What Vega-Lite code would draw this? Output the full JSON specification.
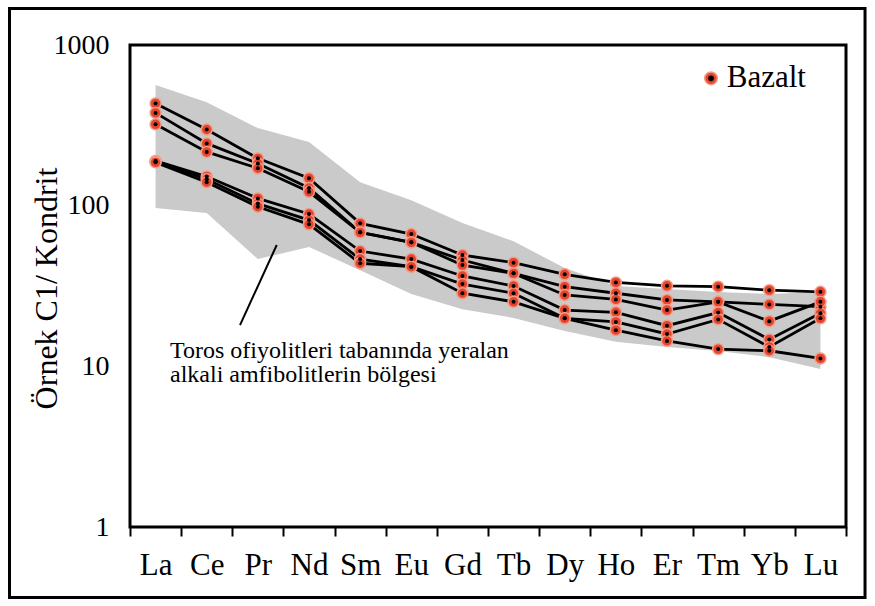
{
  "$schema": "https://vega.github.io/schema/vega-lite/v6.json",
  "width": 716,
  "height": 482,
  "autosize": {"type": "none"},
  "padding": {"left": 130, "top": 45, "right": 29, "bottom": 79},
  "background": "white",
  "config": {"view": {"stroke": "black", "strokeWidth": 3}, "font": "Liberation Serif"},
  "datasets": {
    "ree": [
      {"s":"A","el":"La","i":0,"v":433},{"s":"A","el":"Ce","i":1,"v":298},{"s":"A","el":"Pr","i":2,"v":197},{"s":"A","el":"Nd","i":3,"v":148},{"s":"A","el":"Sm","i":4,"v":77.6},{"s":"A","el":"Eu","i":5,"v":66.6},{"s":"A","el":"Gd","i":6,"v":49.3},{"s":"A","el":"Tb","i":7,"v":44.2},{"s":"A","el":"Dy","i":8,"v":37.4},{"s":"A","el":"Ho","i":9,"v":33.3},{"s":"A","el":"Er","i":10,"v":31.7},{"s":"A","el":"Tm","i":11,"v":31.3},{"s":"A","el":"Yb","i":12,"v":29.8},{"s":"A","el":"Lu","i":13,"v":29.1},
      {"s":"B","el":"La","i":0,"v":378},{"s":"B","el":"Ce","i":1,"v":244},{"s":"B","el":"Pr","i":2,"v":183},{"s":"B","el":"Nd","i":3,"v":129},{"s":"B","el":"Sm","i":4,"v":68.2},{"s":"B","el":"Eu","i":5,"v":59.1},{"s":"B","el":"Gd","i":6,"v":45.9},{"s":"B","el":"Tb","i":7,"v":37.9},{"s":"B","el":"Dy","i":8,"v":31.3},{"s":"B","el":"Ho","i":9,"v":28.5},{"s":"B","el":"Er","i":10,"v":25.9},{"s":"B","el":"Tm","i":11,"v":25.2},{"s":"B","el":"Yb","i":12,"v":24.3},{"s":"B","el":"Lu","i":13,"v":23.5},
      {"s":"C","el":"La","i":0,"v":321},{"s":"C","el":"Ce","i":1,"v":216},{"s":"C","el":"Pr","i":2,"v":171},{"s":"C","el":"Nd","i":3,"v":122},{"s":"C","el":"Sm","i":4,"v":68.2},{"s":"C","el":"Eu","i":5,"v":59.1},{"s":"C","el":"Gd","i":6,"v":42.7},{"s":"C","el":"Tb","i":7,"v":37.9},{"s":"C","el":"Dy","i":8,"v":27.8},{"s":"C","el":"Ho","i":9,"v":26.1},{"s":"C","el":"Er","i":10,"v":22.4},{"s":"C","el":"Tm","i":11,"v":25.2},{"s":"C","el":"Yb","i":12,"v":19.1},{"s":"C","el":"Lu","i":13,"v":25.2},
      {"s":"D","el":"La","i":0,"v":190},{"s":"D","el":"Ce","i":1,"v":152},{"s":"D","el":"Pr","i":2,"v":111},{"s":"D","el":"Nd","i":3,"v":88.7},{"s":"D","el":"Sm","i":4,"v":52.2},{"s":"D","el":"Eu","i":5,"v":46.5},{"s":"D","el":"Gd","i":6,"v":36.5},{"s":"D","el":"Tb","i":7,"v":31.6},{"s":"D","el":"Dy","i":8,"v":22.4},{"s":"D","el":"Ho","i":9,"v":21.7},{"s":"D","el":"Er","i":10,"v":17.9},{"s":"D","el":"Tm","i":11,"v":21.6},{"s":"D","el":"Yb","i":12,"v":14.7},{"s":"D","el":"Lu","i":13,"v":21.4},
      {"s":"E","el":"La","i":0,"v":188},{"s":"E","el":"Ce","i":1,"v":146},{"s":"E","el":"Pr","i":2,"v":103},{"s":"E","el":"Nd","i":3,"v":81.3},{"s":"E","el":"Sm","i":4,"v":46.5},{"s":"E","el":"Eu","i":5,"v":41.7},{"s":"E","el":"Gd","i":6,"v":32.5},{"s":"E","el":"Tb","i":7,"v":28.5},{"s":"E","el":"Dy","i":8,"v":19.9},{"s":"E","el":"Ho","i":9,"v":18.9},{"s":"E","el":"Er","i":10,"v":15.9},{"s":"E","el":"Tm","i":11,"v":19.6},{"s":"E","el":"Yb","i":12,"v":13.2},{"s":"E","el":"Lu","i":13,"v":19.9},
      {"s":"F","el":"La","i":0,"v":186},{"s":"F","el":"Ce","i":1,"v":140},{"s":"F","el":"Pr","i":2,"v":98.5},{"s":"F","el":"Nd","i":3,"v":76.5},{"s":"F","el":"Sm","i":4,"v":43.8},{"s":"F","el":"Eu","i":5,"v":41.7},{"s":"F","el":"Gd","i":6,"v":28.5},{"s":"F","el":"Tb","i":7,"v":25.2},{"s":"F","el":"Dy","i":8,"v":19.9},{"s":"F","el":"Ho","i":9,"v":16.8},{"s":"F","el":"Er","i":10,"v":14.4},{"s":"F","el":"Tm","i":11,"v":12.8},{"s":"F","el":"Yb","i":12,"v":12.5},{"s":"F","el":"Lu","i":13,"v":11.2}
    ],
    "band": [
      {"el":"La","i":0,"v":96.6,"v2":563},{"el":"Ce","i":1,"v":89.9,"v2":441},{"el":"Pr","i":2,"v":46.5,"v2":304},{"el":"Nd","i":3,"v":55.3,"v2":249},{"el":"Sm","i":4,"v":39.7,"v2":140},{"el":"Eu","i":5,"v":28.2,"v2":108},{"el":"Gd","i":6,"v":22.7,"v2":78},{"el":"Tb","i":7,"v":20.0,"v2":60},{"el":"Dy","i":8,"v":16.6,"v2":40.9},{"el":"Ho","i":9,"v":14.2,"v2":31.6},{"el":"Er","i":10,"v":13.2,"v2":30.3},{"el":"Tm","i":11,"v":12.45,"v2":29.0},{"el":"Yb","i":12,"v":11.4,"v2":28.2},{"el":"Lu","i":13,"v":9.62,"v2":29.0}
    ]
  },
  "layer": [
    {
      "data": {"name": "band"},
      "mark": {"type": "area", "color": "#cacaca"},
      "encoding": {
        "x": {
          "field": "i", "type": "quantitative",
          "scale": {"domain": [-0.5, 13.5], "nice": false, "zero": false},
          "axis": {
            "title": null, "grid": false, "domain": false,
            "values": [-0.5,0.5,1.5,2.5,3.5,4.5,5.5,6.5,7.5,8.5,9.5,10.5,11.5,12.5,13.5],
            "labelExpr": "['La','Ce','Pr','Nd','Sm','Eu','Gd','Tb','Dy','Ho','Er','Tm','Yb','Lu',''][round(datum.value+0.5)]",
            "labelOffset": 25.57, "labelFlush": false, "labelOverlap": false, "labelBound": false,
            "tickColor": "black", "tickWidth": 2, "tickSize": 9,
            "labelFont": "Liberation Serif", "labelFontSize": 31, "labelColor": "black", "labelPadding": 14
          }
        },
        "y": {
          "field": "v", "type": "quantitative",
          "scale": {"type": "log", "domain": [1, 1000], "nice": false},
          "axis": {
            "title": "Örnek C1/ Kondrit", "grid": false, "domain": false, "ticks": false,
            "values": [1, 10, 100, 1000], "format": "d",
            "labelFont": "Liberation Serif", "labelFontSize": 28, "labelColor": "black", "labelPadding": 21,
            "titleFont": "Liberation Serif", "titleFontSize": 32, "titleFontWeight": "normal", "titleColor": "black",
            "titleX": -74, "titleY": 243, "titleAngle": 270, "titleAlign": "center", "titleBaseline": "alphabetic"
          }
        },
        "y2": {"field": "v2"}
      }
    },
    {
      "data": {"values": [{}]},
      "mark": {"type": "rule", "color": "black", "strokeWidth": 2},
      "encoding": {"x": {"datum": 2.369}, "y": {"datum": 56.9}, "x2": {"datum": 1.651}, "y2": {"datum": 18.07}}
    },
    {
      "data": {"values": [{}]},
      "mark": {"type": "text", "text": ["Toros ofiyolitleri tabanında yeralan", "alkali amfibolitlerin bölgesi"], "lineHeight": 24.5, "align": "left", "baseline": "alphabetic", "font": "Liberation Serif", "fontSize": 24, "color": "black"},
      "encoding": {"x": {"datum": 0.282}, "y": {"datum": 11.31}}
    },
    {
      "data": {"name": "ree"},
      "mark": {"type": "line", "color": "black", "strokeWidth": 2.8},
      "encoding": {
        "x": {"field": "i", "type": "quantitative"},
        "y": {"field": "v", "type": "quantitative"},
        "detail": {"field": "s"}
      }
    },
    {
      "data": {"name": "ree"},
      "mark": {"type": "point", "shape": "circle", "filled": true, "size": 120, "fill": "#e5452b", "stroke": "#f39a88", "strokeWidth": 1.5, "opacity": 1},
      "encoding": {
        "x": {"field": "i", "type": "quantitative"},
        "y": {"field": "v", "type": "quantitative"}
      }
    },
    {
      "data": {"name": "ree"},
      "mark": {"type": "point", "shape": "circle", "filled": true, "size": 16, "color": "black", "opacity": 1},
      "encoding": {
        "x": {"field": "i", "type": "quantitative"},
        "y": {"field": "v", "type": "quantitative"}
      }
    },
    {
      "data": {"values": [{}]},
      "mark": {"type": "point", "shape": "circle", "filled": true, "size": 160, "fill": "#e5452b", "stroke": "#f39a88", "strokeWidth": 1.5, "opacity": 1},
      "encoding": {"x": {"datum": 10.861}, "y": {"datum": 620}}
    },
    {
      "data": {"values": [{}]},
      "mark": {"type": "point", "shape": "circle", "filled": true, "size": 32, "color": "black", "opacity": 1},
      "encoding": {"x": {"datum": 10.861}, "y": {"datum": 620}}
    },
    {
      "data": {"values": [{}]},
      "mark": {"type": "text", "text": "Bazalt", "align": "left", "baseline": "alphabetic", "font": "Liberation Serif", "fontSize": 31, "color": "black"},
      "encoding": {"x": {"datum": 11.168}, "y": {"datum": 549.5}}
    },
    {
      "data": {"values": [{}]},
      "mark": {"type": "rect", "filled": false, "stroke": "black", "strokeWidth": 3, "clip": false},
      "encoding": {"x": {"datum": -2.856}, "x2": {"datum": 13.872}, "y": {"datum": 0.364}, "y2": {"datum": 1687}}
    }
  ]
}
